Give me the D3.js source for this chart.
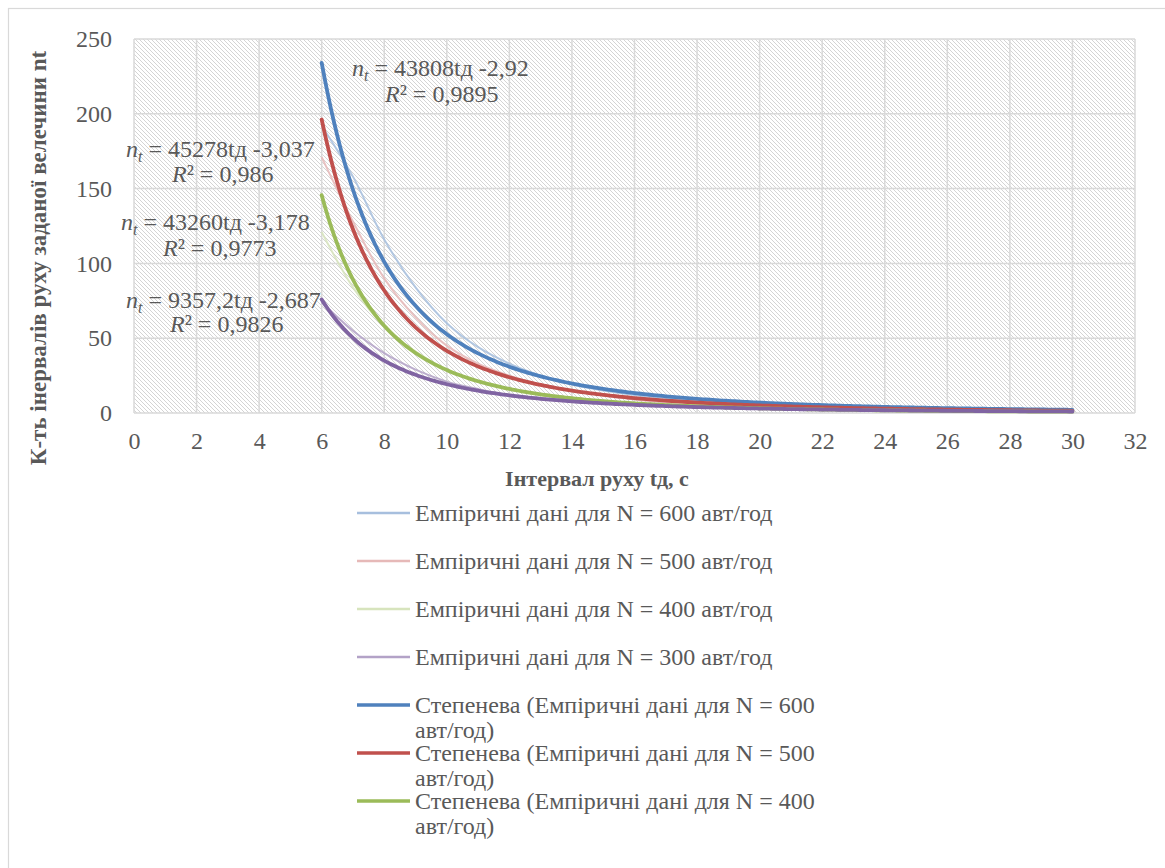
<!DOCTYPE html>
<html><head><meta charset="utf-8">
<script src="https://cdn.jsdelivr.net/npm/d3@7/dist/d3.min.js"></script>
<style>
body{margin:0;background:#fff}
</style>
</head><body>
<svg id="c" width="1165" height="868"></svg>
<script>
// ---- data ----
const xValues = [6,7,8,9,10,11,12,13,14,15,16,17,18,19,20,21,22,23,24,25,26,27,28,29,30];
const emp600 = [192,158,116,84,60,44,33,25,19,15,12,10,8,7,6,5,4,4,3,3,2,2,2,2,1];
const emp500 = [171,128,90,64,45,33,25,19,15,12,9,7,6,5,4,4,3,3,2,2,2,2,1,1,1];
const emp400 = [121,84,58,41,29,21,16,12,9,7,6,5,4,3,3,2,2,2,2,1,1,1,1,1,1];
const emp300 = [74,55,40,29,21,16,12,10,8,7,6,5,4,4,3,3,3,2,2,2,2,2,1,1,1];
const seriesN = [600,500,400,300];
const fitCoef = [43808,45278,43260,9357.2];
const fitExp = [-2.92,-3.037,-3.178,-2.687];
const fitCoefLabel = ["43808","45278","43260","9357,2"];
const fitExpLabel = ["-2,92","-3,037","-3,178","-2,687"];
const r2Label = ["0,9895","0,986","0,9773","0,9826"];
const xTicks = [0,2,4,6,8,10,12,14,16,18,20,22,24,26,28,30,32];
const yTicks = [0,50,100,150,200,250];
const colors = ["#4F81BD","#C0504D","#9BBB59","#8064A2"];
const empColors = ["#A7BFDE","#E6B9B8","#D7E4BD","#B3A2C7"];
const legendLabels = [
  ["Емпіричні дані для N = 600 авт/год"],
  ["Емпіричні дані для N = 500 авт/год"],
  ["Емпіричні дані для N = 400 авт/год"],
  ["Емпіричні дані для N = 300 авт/год"],
  ["Степенева (Емпіричні дані для N = 600","авт/год)"],
  ["Степенева (Емпіричні дані для N = 500","авт/год)"],
  ["Степенева (Емпіричні дані для N = 400","авт/год)"]
];
const yTitle = "К-ть інервалів руху заданої велечини  nt";
const xTitle = "Інтервал руху tд, с";

// ---- chart ----
const FONT = '"Liberation Serif", "Times New Roman", serif';
const svg = d3.select("#c").style("font-family", FONT);
const x = d3.scaleLinear().domain([0,32]).range([134,1135]);
const y = d3.scaleLinear().domain([0,250]).range([413,39]);

svg.append("rect").attr("x",8.5).attr("y",8.5).attr("width",1170).attr("height",900)
  .attr("fill","#fff").attr("stroke","#d9d9d9").attr("stroke-width",1.2);

const defs = svg.append("defs");
const pat = defs.append("pattern").attr("id","hatch").attr("patternUnits","userSpaceOnUse")
  .attr("width",4).attr("height",4);
pat.append("rect").attr("width",4).attr("height",4).attr("fill","#fff");
pat.append("path").attr("d","M-1,-1L5,5M-1,3L1,5M3,-1L5,1")
  .attr("stroke","#d4d4d4").attr("stroke-width",1);

svg.append("rect").attr("x",x(0)).attr("y",y(250)).attr("width",x(32)-x(0)).attr("height",y(0)-y(250))
  .attr("fill","url(#hatch)");

// gridlines
svg.append("g").selectAll("line").data(xTicks).join("line")
  .attr("x1",d=>x(d)).attr("x2",d=>x(d)).attr("y1",y(0)).attr("y2",y(250))
  .attr("stroke","#d9d9d9").attr("stroke-width",1.5);
svg.append("g").selectAll("line").data(yTicks).join("line")
  .attr("x1",x(0)).attr("x2",x(32)).attr("y1",d=>y(d)).attr("y2",d=>y(d))
  .attr("stroke","#d9d9d9").attr("stroke-width",1.5);

// axes labels via d3 axes
const xAxis = svg.append("g").attr("transform",`translate(0,${y(0)})`)
  .call(d3.axisBottom(x).tickValues(xTicks).tickSize(0).tickPadding(19));
xAxis.attr("font-family",null).attr("font-size",null);
xAxis.select(".domain").remove();
xAxis.selectAll("text").style("font-family",FONT).style("font-size","24px").attr("fill","#595959");
const yAxis = svg.append("g").attr("transform",`translate(${x(0)},0)`)
  .call(d3.axisLeft(y).tickValues(yTicks).tickSize(0).tickPadding(22));
yAxis.attr("font-family",null).attr("font-size",null);
yAxis.select(".domain").remove();
yAxis.selectAll("text").style("font-family",FONT).style("font-size","24px").attr("fill","#595959");

// empirical lines
const empSeries = [emp600,emp500,emp400,emp300];
const line = d3.line().x(d=>x(d[0])).y(d=>y(d[1])).curve(d3.curveCatmullRom.alpha(0.5));
empSeries.forEach((s,i)=>{
  svg.append("path").datum(xValues.map((v,j)=>[v,s[j]]))
    .attr("d",line).attr("fill","none").attr("stroke",empColors[i]).attr("stroke-width",2).attr("opacity",0.85);
});

// power trendlines
const fine = d3.range(6,30.001,0.1);
fitCoef.forEach((a,i)=>{
  svg.append("path").datum(fine.map(t=>[t,a*Math.pow(t,fitExp[i])]))
    .attr("d",d3.line().x(d=>x(d[0])).y(d=>y(d[1]))).attr("fill","none")
    .attr("stroke",colors[i]).attr("stroke-width",3.8).attr("stroke-linecap","round");
});

// equation labels
const eqPos = [[352,76,385,102],[126,157,172,182],[121,230,163,256],[126,308,170,332]];
fitCoef.forEach((a,i)=>{
  const p = eqPos[i];
  const t = svg.append("text").attr("x",p[0]).attr("y",p[1])
    .style("font-family",FONT).style("font-size","24px").attr("fill","#595959");
  t.append("tspan").attr("font-style","italic").text("n");
  t.append("tspan").attr("font-style","italic").style("font-size","16px").attr("dy",5).text("t");
  t.append("tspan").attr("dy",-5).text(" = "+fitCoefLabel[i]+"tд "+fitExpLabel[i]);
  const r = svg.append("text").attr("x",p[2]).attr("y",p[3])
    .style("font-family",FONT).style("font-size","24px").attr("fill","#595959");
  r.append("tspan").attr("font-style","italic").text("R");
  r.append("tspan").text("² = "+r2Label[i]);
});

// axis titles
svg.append("text").attr("transform",`translate(46,258) rotate(-90)`)
  .attr("text-anchor","middle").style("font-family",FONT).style("font-size","23px")
  .attr("font-weight","bold").attr("fill","#595959").text(yTitle);
svg.append("text").attr("x",597).attr("y",486).attr("text-anchor","middle")
  .style("font-family",FONT).style("font-size","22px")
  .attr("font-weight","bold").attr("fill","#595959").text(xTitle);

// legend
const legY = [513,561,609,657,705,753,801];
const legColors = [...empColors, ...colors.slice(0,3)];
legendLabels.forEach((lab,i)=>{
  const g = svg.append("g");
  g.append("line").attr("x1",357).attr("x2",410).attr("y1",legY[i]).attr("y2",legY[i])
    .attr("stroke",legColors[i]).attr("stroke-width",i<4?2.5:3.5);
  lab.forEach((s,k)=>{
    g.append("text").attr("x",415).attr("y",legY[i]+8+k*25)
      .style("font-family",FONT).style("font-size","24px").attr("fill","#595959").text(s);
  });
});
</script>
</body></html>
